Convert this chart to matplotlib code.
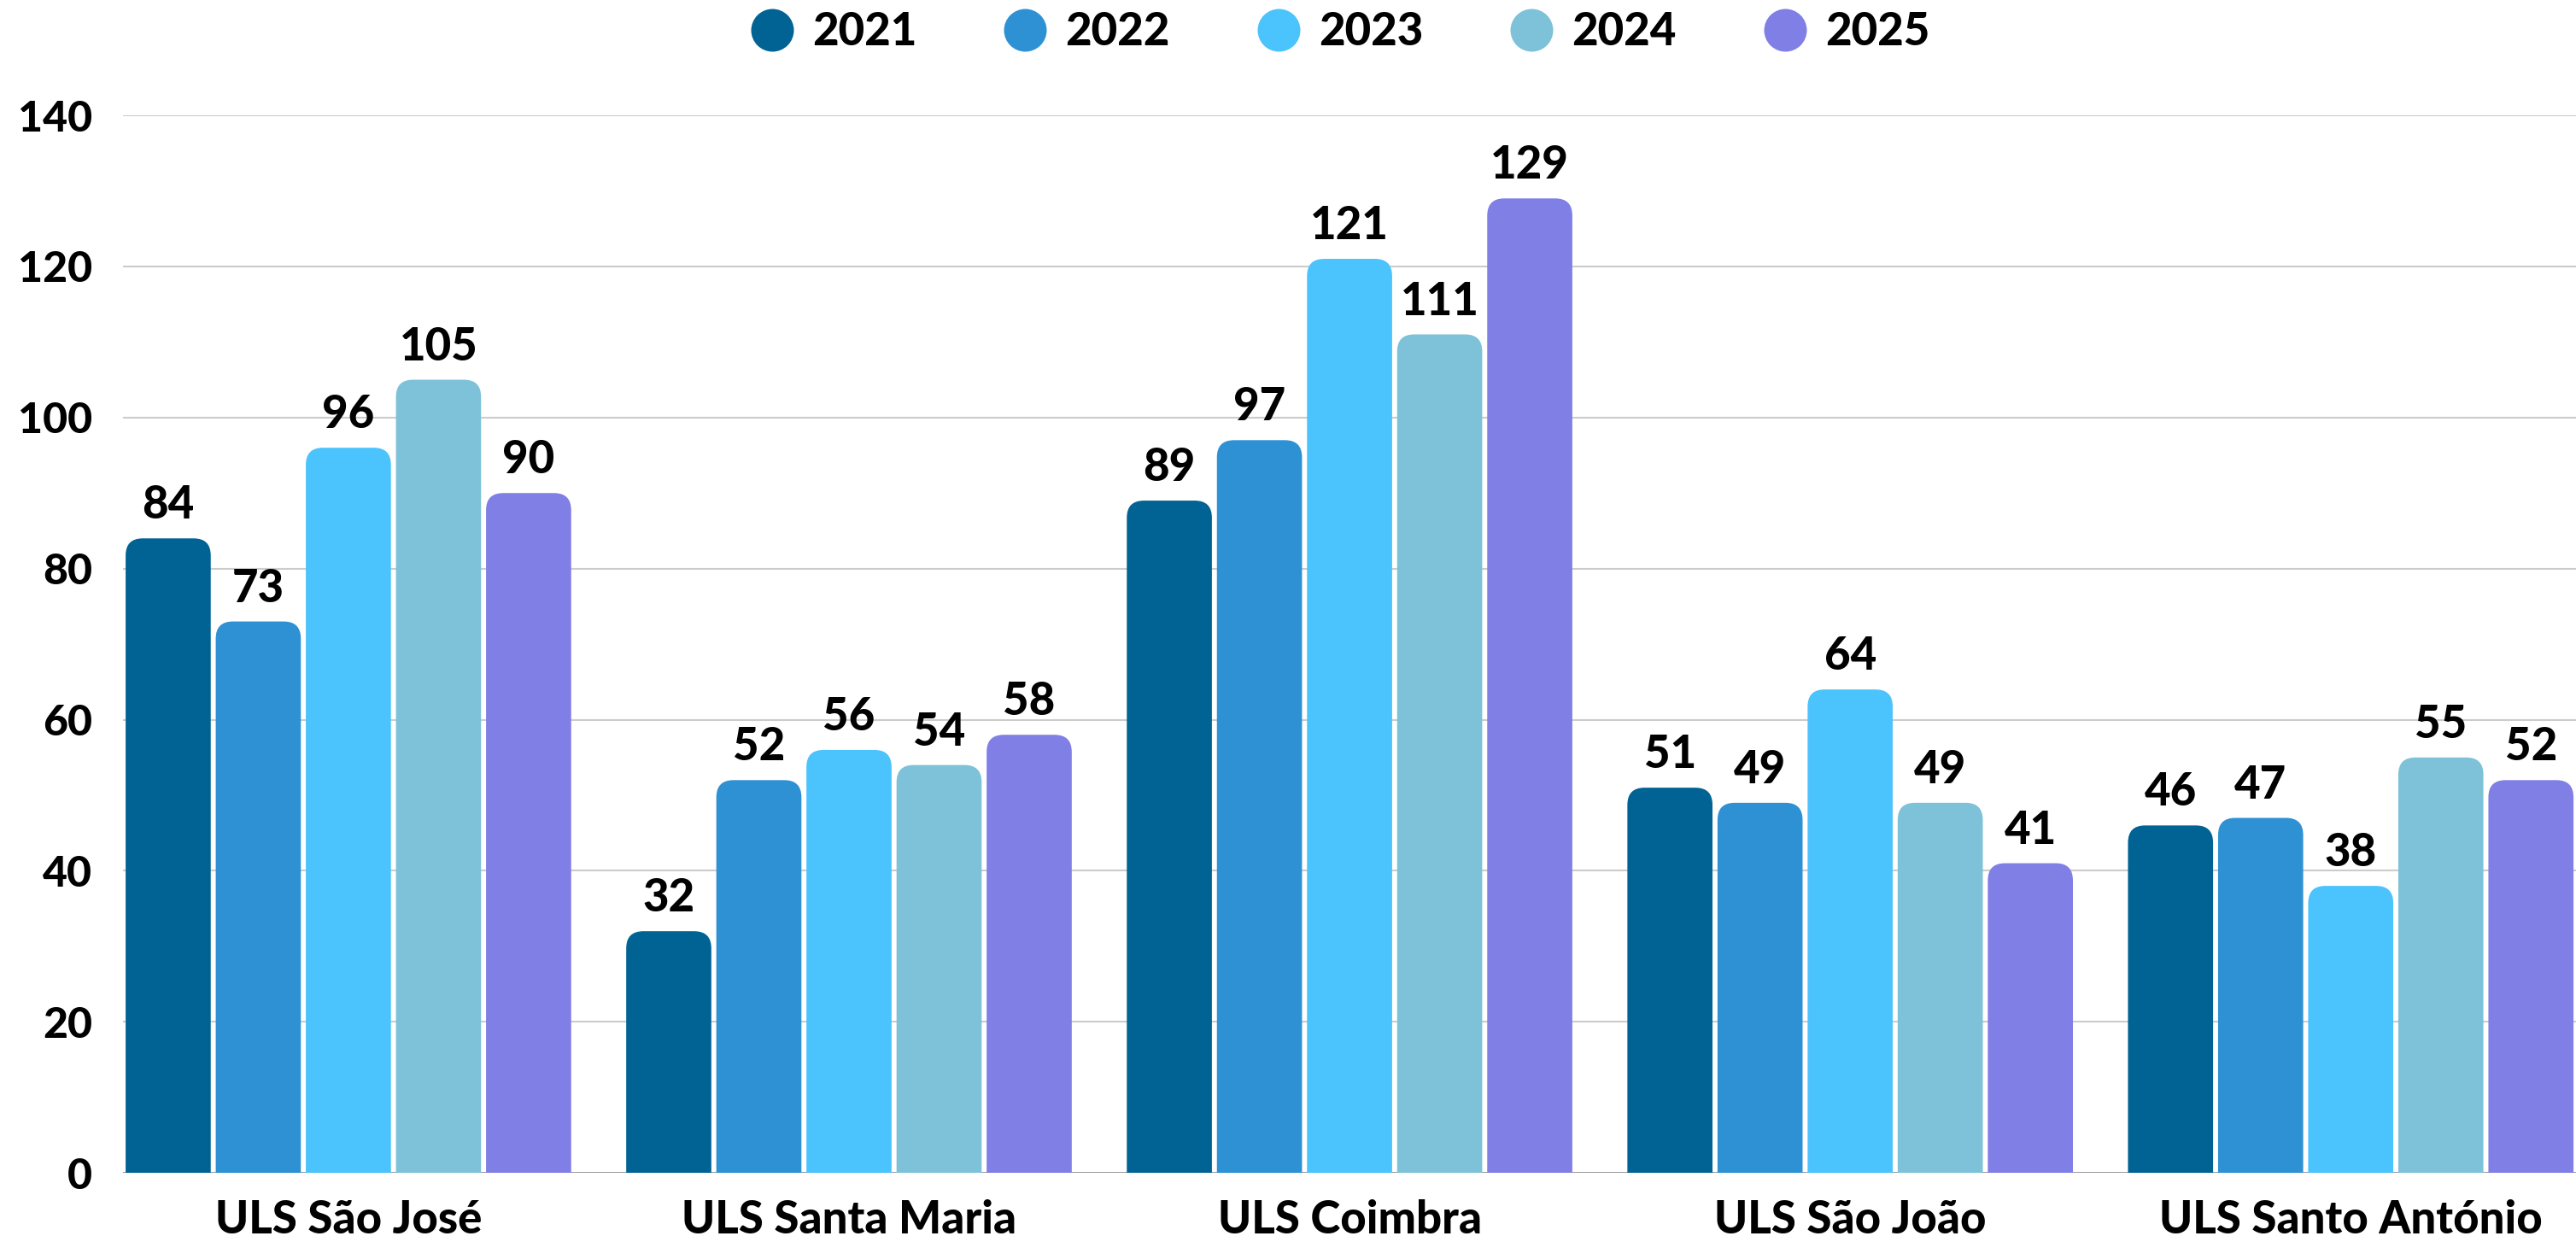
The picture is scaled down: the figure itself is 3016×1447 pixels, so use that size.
import matplotlib
matplotlib.use("Agg")
import matplotlib.pyplot as plt
from matplotlib.patches import FancyBboxPatch
from matplotlib.lines import Line2D
import numpy as np

# ---------- data ----------
hospitais = ["ULS São José", "ULS Santa Maria", "ULS Coimbra", "ULS São João", "ULS Santo António"]
anos = ["2021", "2022", "2023", "2024", "2025"]
v2021 = [84, 32, 89, 51, 46]
v2022 = [73, 52, 97, 49, 47]
v2023 = [96, 56, 121, 64, 38]
v2024 = [105, 54, 111, 49, 55]
v2025 = [90, 58, 129, 41, 52]
series = [v2021, v2022, v2023, v2024, v2025]
cores = ["#006394", "#2e91d4", "#4bc3fc", "#7dc2d8", "#7f7fe6"]
yticks = [0, 20, 40, 60, 80, 100, 120, 140]

plt.rcParams["font.family"] = ["Lato", "DejaVu Sans"]
FW = "black"

fig = plt.figure(figsize=(30.16, 14.47), dpi=100)
ax = fig.add_axes([0.0478, 0.051, 0.9522, 0.8557])

slot = 0.18
bw = 0.17
x = np.arange(len(hospitais))
ax.set_xlim(-0.45, 4.45)
ax.set_ylim(0, 140)

# rounded-top bars: draw via ax.bar, then swap for rounded patches
fig.canvas.draw()
p0 = ax.transData.transform((0, 0))
p1 = ax.transData.transform((1, 1))
px_x = p1[0] - p0[0]
px_y = p1[1] - p0[1]
r_px = 20
rx = r_px / px_x
aspect = px_x / px_y
ry = rx * aspect

for i, (vals, c) in enumerate(zip(series, cores)):
    xs = x + (i - 2) * slot
    bars = ax.bar(xs, vals, width=bw, color=c, zorder=2)
    for b, v in zip(bars, vals):
        b.set_visible(False)
        patch = FancyBboxPatch((b.get_x(), -ry), b.get_width(), v + ry,
                               boxstyle=f"round,pad=0,rounding_size={rx}",
                               mutation_aspect=aspect, facecolor=c,
                               edgecolor="none", zorder=2)
        ax.add_patch(patch)
        ax.annotate(str(v), (b.get_x() + b.get_width() / 2, v),
                    xytext=(0, 10), textcoords="offset points",
                    ha="center", va="bottom", fontsize=38, fontweight=FW,
                    color="black", zorder=3)

# grid
ax.set_yticks(yticks)
ax.yaxis.grid(True, color="#cccccc", lw=1.5, zorder=0)
ax.set_axisbelow(True)
ax.axhline(0, color="#999999", lw=2, zorder=1)
for s in ax.spines.values():
    s.set_visible(False)
ax.tick_params(axis="y", length=0, pad=26, labelsize=36)
ax.tick_params(axis="x", length=0, pad=22, labelsize=38)
ax.set_xticks(x)
ax.set_xticklabels(hospitais)
for t in ax.get_xticklabels() + ax.get_yticklabels():
    t.set_fontweight(FW)

# legend
handles = [Line2D([], [], marker="o", ls="none", markersize=36,
                  markerfacecolor=c, markeredgecolor="none") for c in cores]
fig.legend(handles, anos, loc="center", bbox_to_anchor=(0.52, 0.974), ncol=5,
           frameon=False, prop={"size": 38, "weight": FW},
           handletextpad=0.4, columnspacing=1.9, handlelength=1.0)

fig.savefig("out.png", dpi=100)
